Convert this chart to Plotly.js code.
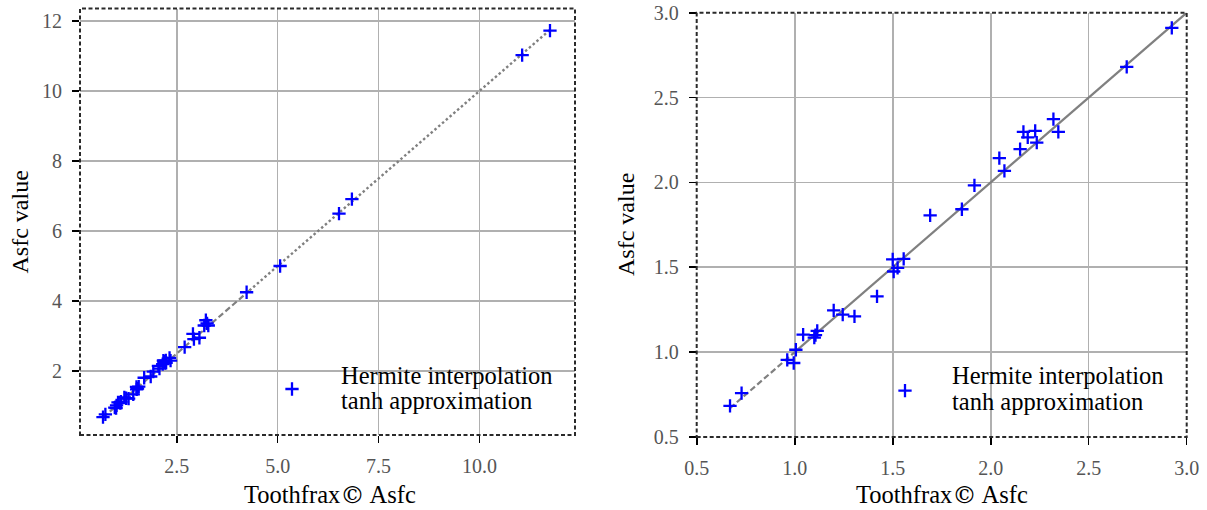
<!DOCTYPE html>
<html><head><meta charset="utf-8">
<script src="https://cdn.plot.ly/plotly-3.0.1.min.js"></script>
<style>html,body{margin:0;padding:0;background:#fff}#chart{width:1207px;height:510px}</style>
</head><body><div id="chart"></div>
<script>
// Toothfrax Asfc (x) vs computed Asfc value (y)
const toothfrax = [0.670,0.729,0.962,0.995,1.006,1.043,1.100,1.106,1.115,1.199,1.245,1.305,1.420,1.500,1.505,1.525,1.556,1.691,1.853,1.917,2.044,2.070,2.150,2.167,2.189,2.227,2.235,2.320,2.345,2.694,2.924,2.90,3.06,3.18,3.22,3.25,3.28,4.23,5.06,6.52,6.84,11.06,11.75];
const asfc      = [0.683,0.758,0.955,0.936,1.014,1.103,1.085,1.100,1.125,1.246,1.221,1.211,1.329,1.546,1.475,1.497,1.550,1.806,1.842,1.983,2.143,2.068,2.196,2.298,2.265,2.304,2.235,2.373,2.298,2.681,2.911,3.06,2.95,3.30,3.45,3.36,3.30,4.25,5.00,6.50,6.91,11.03,11.73];

// reference line pieces (left panel)
const leftDashX = [0.67, 4.3], leftDashY = [0.67, 4.3];
const leftDotX  = [4.3, 11.75], leftDotY = [4.3, 11.75];
// reference line pieces (right panel)
const rightDashX = [0.67, 1.0], rightDashY = [0.67, 1.0];
const rightSolidX = [1.0, 3.1], rightSolidY = [1.0, 3.1];

const leftXTicks = [2.5, 5.0, 7.5, 10.0];
const leftYTicks = [2, 4, 6, 8, 10, 12];
const rightTicks = [0.5, 1.0, 1.5, 2.0, 2.5, 3.0];

const legendLabels = ['Hermite interpolation', 'tanh approximation'];
const xTitle = 'Toothfrax<span style="font-family:DejaVu Serif">©</span> Asfc';
const yTitle = 'Asfc value';

const SERIF = 'Liberation Serif, Times New Roman, serif';
const lineGray = '#808080';
const markerStyle = {symbol: 'cross-thin', size: 9.5, color: '#0000ff', line: {color: '#0000ff', width: 2.3}};

const traces = [
  {x: leftDashX, y: leftDashY, xaxis: 'x', yaxis: 'y', mode: 'lines', line: {color: lineGray, width: 2.2, dash: '6px,3px'}, showlegend: false, hoverinfo: 'skip'},
  {x: leftDotX, y: leftDotY, xaxis: 'x', yaxis: 'y', mode: 'lines', line: {color: lineGray, width: 2.4, dash: '2.5px,2.5px'}, showlegend: false, hoverinfo: 'skip'},
  {x: toothfrax, y: asfc, xaxis: 'x', yaxis: 'y', mode: 'markers', marker: markerStyle, name: ' ', legend: 'legend', showlegend: true},
  {x: rightDashX, y: rightDashY, xaxis: 'x2', yaxis: 'y2', mode: 'lines', line: {color: lineGray, width: 2.2, dash: '6px,3px'}, showlegend: false, hoverinfo: 'skip'},
  {x: rightSolidX, y: rightSolidY, xaxis: 'x2', yaxis: 'y2', mode: 'lines', line: {color: lineGray, width: 2.2}, showlegend: false, hoverinfo: 'skip'},
  {x: toothfrax, y: asfc, xaxis: 'x2', yaxis: 'y2', mode: 'markers', marker: markerStyle, name: ' ', legend: 'legend2', showlegend: true}
];

const W = 1207, H = 510;
const px = v => v / W, py = v => 1 - v / H;

const axisCommon = {
  showgrid: true, gridcolor: '#b0b0b0', gridwidth: 1.6,
  zeroline: false, showline: false,
  ticks: 'outside', ticklen: 7, tickwidth: 1.6, tickcolor: '#000',
  tickfont: {family: SERIF, size: 20, color: '#555'},
  automargin: false, fixedrange: true
};

const layout = {
  width: W, height: H,
  margin: {l: 0, r: 0, t: 0, b: 0},
  paper_bgcolor: '#fff', plot_bgcolor: '#fff',
  font: {family: SERIF},
  xaxis: Object.assign({}, axisCommon, {domain: [px(80), px(575)], range: [0.10, 12.37], tickvals: leftXTicks, tickformat: '.1f', anchor: 'y', ticklabelstandoff: 6}),
  yaxis: Object.assign({}, axisCommon, {domain: [py(435), py(8.5)], range: [0.17, 12.36], tickvals: leftYTicks, tickformat: 'd', anchor: 'x', ticklabelstandoff: 6}),
  xaxis2: Object.assign({}, axisCommon, {domain: [px(696.7), px(1186.7)], range: [0.5, 3.0], tickvals: rightTicks, tickformat: '.1f', anchor: 'y2', ticklabelstandoff: 6}),
  yaxis2: Object.assign({}, axisCommon, {domain: [py(437), py(12.7)], range: [0.5, 3.0], tickvals: rightTicks, tickformat: '.1f', anchor: 'x2', ticklabelstandoff: 6}),
  legend: {x: px(272), y: py(389), xanchor: 'left', yanchor: 'middle', bgcolor: 'rgba(0,0,0,0)', borderwidth: 0, font: {size: 10}, itemwidth: 30},
  legend2: {x: px(885), y: py(390.7), xanchor: 'left', yanchor: 'middle', bgcolor: 'rgba(0,0,0,0)', borderwidth: 0, font: {size: 10}, itemwidth: 30},
  shapes: [
    {type: 'rect', xref: 'x domain', yref: 'y domain', x0: 0, x1: 1, y0: 0, y1: 1, line: {color: '#2a2a2a', width: 2, dash: '4px,2.5px'}, layer: 'above'},
    {type: 'rect', xref: 'x2 domain', yref: 'y2 domain', x0: 0, x1: 1, y0: 0, y1: 1, line: {color: '#2a2a2a', width: 2, dash: '4px,2.5px'}, layer: 'above'}
  ],
  annotations: [
    {text: legendLabels[0], xref: 'paper', yref: 'paper', x: px(338.5), y: py(375), xanchor: 'left', yanchor: 'middle', showarrow: false, font: {family: SERIF, size: 24.5, color: '#000'}},
    {text: legendLabels[1], xref: 'paper', yref: 'paper', x: px(338.5), y: py(400), xanchor: 'left', yanchor: 'middle', showarrow: false, font: {family: SERIF, size: 24.5, color: '#000'}},
    {text: legendLabels[0], xref: 'paper', yref: 'paper', x: px(950), y: py(375), xanchor: 'left', yanchor: 'middle', showarrow: false, font: {family: SERIF, size: 24.5, color: '#000'}},
    {text: legendLabels[1], xref: 'paper', yref: 'paper', x: px(950), y: py(401.5), xanchor: 'left', yanchor: 'middle', showarrow: false, font: {family: SERIF, size: 24.5, color: '#000'}},
    {text: xTitle, xref: 'paper', yref: 'paper', x: px(330), y: py(494), xanchor: 'center', yanchor: 'middle', showarrow: false, font: {family: SERIF, size: 24.5, color: '#000'}},
    {text: xTitle, xref: 'paper', yref: 'paper', x: px(941.7), y: py(494), xanchor: 'center', yanchor: 'middle', showarrow: false, font: {family: SERIF, size: 24.5, color: '#000'}},
    {text: yTitle, xref: 'paper', yref: 'paper', x: px(19), y: py(222.5), xanchor: 'center', yanchor: 'middle', textangle: -90, showarrow: false, font: {family: SERIF, size: 24, color: '#000'}},
    {text: yTitle, xref: 'paper', yref: 'paper', x: px(626), y: py(225), xanchor: 'center', yanchor: 'middle', textangle: -90, showarrow: false, font: {family: SERIF, size: 24, color: '#000'}}
  ]
};

Plotly.newPlot('chart', traces, layout, {displayModeBar: false, staticPlot: true});
</script>
</body></html>
